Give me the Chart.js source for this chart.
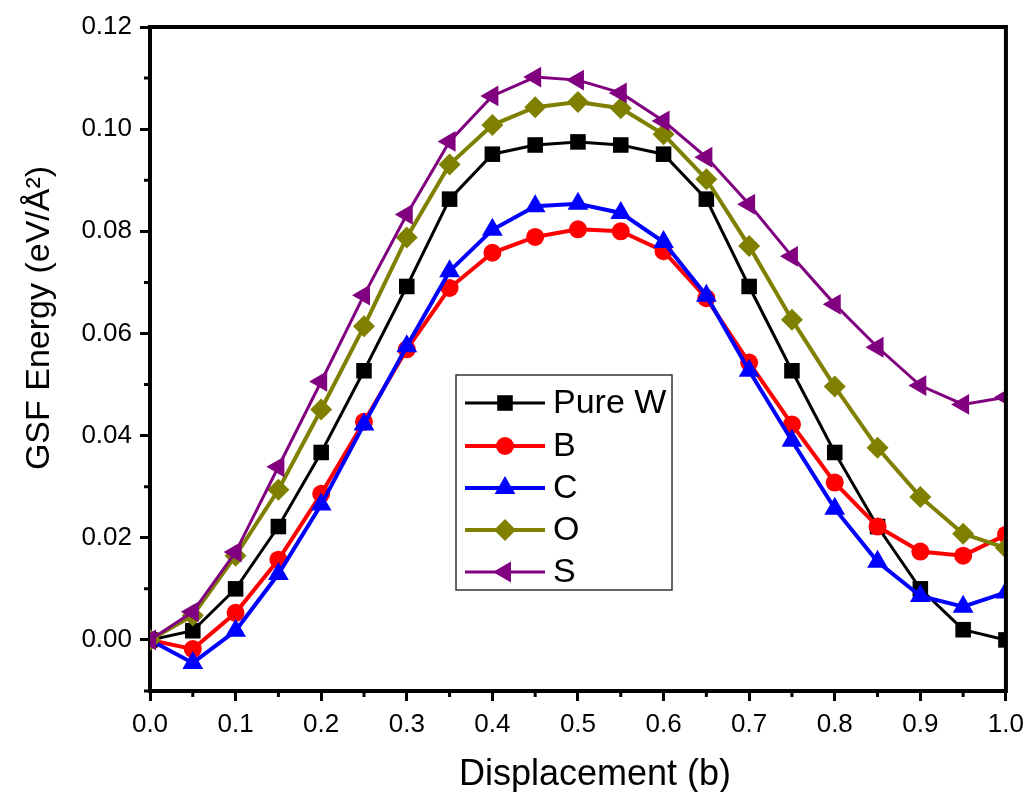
<!DOCTYPE html>
<html lang="en">
<head>
<meta charset="UTF-8">
<title>GSF Energy vs Displacement</title>
<script src="https://cdn.jsdelivr.net/npm/chart.js"></script>
<style>
  html, body { margin: 0; padding: 0; background: #fff; }
  #wrap { width: 1032px; height: 792px; }
</style>
</head>
<body>
<div id="wrap"><canvas id="gsfChart" width="1032" height="792"></canvas></div>
<script>
// displacement along b
const displacement = [0, 0.05, 0.1, 0.15, 0.2, 0.25, 0.3, 0.35, 0.4, 0.45, 0.5,
                      0.55, 0.6, 0.65, 0.7, 0.75, 0.8, 0.85, 0.9, 0.95, 1.0];

// GSF energy (eV/Å^2)
const pureW  = [0, 0.0018, 0.0100, 0.0222, 0.0367, 0.0527, 0.0692, 0.0863, 0.0951, 0.0969, 0.0975,
                0.0969, 0.0951, 0.0863, 0.0692, 0.0527, 0.0367, 0.0222, 0.0100, 0.0020, 0.0000];
const boron  = [0, -0.0018, 0.0053, 0.0157, 0.0286, 0.0427, 0.0569, 0.0689, 0.0758, 0.0789, 0.0804,
                0.0800, 0.0761, 0.0669, 0.0543, 0.0422, 0.0308, 0.0222, 0.0173, 0.0165, 0.0206];
const carbon = [0, -0.0045, 0.0018, 0.0129, 0.0265, 0.0422, 0.0575, 0.0722, 0.0803, 0.0849, 0.0854,
                0.0836, 0.0779, 0.0674, 0.0527, 0.0390, 0.0257, 0.0153, 0.0086, 0.0065, 0.0093];
const oxygen = [0, 0.0048, 0.0165, 0.0294, 0.0451, 0.0614, 0.0788, 0.0931, 0.1008, 0.1043, 0.1053,
                0.1041, 0.0990, 0.0902, 0.0771, 0.0627, 0.0496, 0.0376, 0.0280, 0.0208, 0.0180];
const sulfur = [0, 0.0055, 0.0172, 0.0339, 0.0506, 0.0675, 0.0833, 0.0976, 0.1065, 0.1102, 0.1096,
                0.1071, 0.1016, 0.0945, 0.0853, 0.0751, 0.0657, 0.0573, 0.0498, 0.0461, 0.0475];

const xTicks = [0, 0.1, 0.2, 0.3, 0.4, 0.5, 0.6, 0.7, 0.8, 0.9, 1.0];
const yTicks = [0, 0.02, 0.04, 0.06, 0.08, 0.10, 0.12];
const xMinor = [0.05, 0.15, 0.25, 0.35, 0.45, 0.55, 0.65, 0.75, 0.85, 0.95];
const yMinor = [-0.01, 0.01, 0.03, 0.05, 0.07, 0.09, 0.11];

const FONT = "'Liberation Sans', Arial, sans-serif";

function pts(arr) {
    return arr.map((v, i) => ({ x: displacement[i], y: v }));
}

function series(label, values, color, style, radius, lineW, rot, order) {
    return {
        label: label,
        data: pts(values),
        borderColor: color,
        backgroundColor: color,
        pointBackgroundColor: color,
        pointBorderColor: color,
        pointBorderWidth: 0,
        pointStyle: style,
        pointRadius: radius,
        pointRotation: rot,
        borderWidth: lineW,
        tension: 0,
        clip: 0,
        order: order
    };
}

const datasets = [
    series('Pure W', pureW, '#000000', 'rect', 11, 3, 0, 5),
    series('B', boron, '#ff0000', 'circle', 9, 4, 0, 4),
    series('C', carbon, '#0000ff', 'triangle', 12, 4, 0, 3),
    series('O', oxygen, '#808000', 'rectRot', 11, 4, 0, 2),
    series('S', sulfur, '#800080', 'triangle', 12, 3, -90, 1)
];

// minor ticks, closed frame, axis titles and the boxed legend inside the plot
const framePlugin = {
    id: 'framePlugin',
    afterDatasetsDraw(chart) {
        const ctx = chart.ctx;
        const a = chart.chartArea;
        const xs = chart.scales.x, ys = chart.scales.y;
        ctx.save();
        ctx.strokeStyle = '#000';
        ctx.lineWidth = 3;
        ctx.beginPath();
        xMinor.forEach(v => {
            const px = xs.getPixelForValue(v);
            ctx.moveTo(px, a.bottom);
            ctx.lineTo(px, a.bottom + 6);
        });
        yMinor.forEach(v => {
            const py = ys.getPixelForValue(v);
            ctx.moveTo(a.left, py);
            ctx.lineTo(a.left - 6, py);
        });
        ctx.stroke();

        ctx.lineWidth = 4;
        ctx.beginPath();
        ctx.moveTo(a.left - 2, a.top);
        ctx.lineTo(a.right, a.top);
        ctx.lineTo(a.right, a.bottom + 2);
        ctx.stroke();

        // axis titles (both sit a little off-centre in the original)
        ctx.fillStyle = '#000';
        ctx.textAlign = 'center';
        ctx.textBaseline = 'middle';
        ctx.font = '36px ' + FONT;
        ctx.fillText('Displacement (b)', 595, 775);

        ctx.save();
        ctx.translate(40, 318);
        ctx.rotate(-Math.PI / 2);
        ctx.font = '34px ' + FONT;
        ctx.fillText('GSF Energy (eV/Å²)', 0, 0);
        ctx.restore();

        // legend
        const lx = 456, ly = 375, lw = 216, lh = 215;
        ctx.fillStyle = '#fff';
        ctx.fillRect(lx, ly, lw, lh);
        ctx.strokeStyle = '#333';
        ctx.lineWidth = 1.5;
        ctx.strokeRect(lx, ly, lw, lh);
        const rows = [403, 446, 488, 530, 572];
        ctx.font = '34px ' + FONT;
        ctx.textBaseline = 'middle';
        ctx.textAlign = 'left';
        datasets.forEach((ds, i) => {
            const y = rows[i];
            ctx.strokeStyle = ds.borderColor;
            ctx.lineWidth = ds.borderWidth;
            ctx.beginPath();
            ctx.moveTo(465, y);
            ctx.lineTo(545, y);
            ctx.stroke();
            ctx.fillStyle = ds.borderColor;
            Chart.helpers.drawPoint(ctx, {
                pointStyle: ds.pointStyle,
                rotation: ds.pointRotation,
                radius: ds.pointRadius,
                borderWidth: 0
            }, 505, y);
            ctx.fillStyle = '#000';
            ctx.fillText(ds.label, 553, y + 1);
        });
        ctx.restore();
    }
};

const axisGrid = {
    display: true,
    drawOnChartArea: false,
    drawTicks: true,
    tickLength: 10,
    tickWidth: 3,
    tickColor: '#000',
    color: '#000'
};

new Chart(document.getElementById('gsfChart'), {
    type: 'line',
    data: { datasets: datasets },
    options: {
        responsive: false,
        animation: false,
        devicePixelRatio: 1,
        layout: { padding: { left: 24, right: 22, top: 27, bottom: 0 } },
        plugins: {
            legend: { display: false },
            tooltip: { enabled: false }
        },
        scales: {
            x: {
                type: 'linear',
                min: 0,
                max: 1,
                afterBuildTicks: s => { s.ticks = xTicks.map(v => ({ value: v })); },
                afterFit: s => { s.height = 101; },
                ticks: {
                    callback: v => v.toFixed(1),
                    font: { family: FONT, size: 26 },
                    color: '#000',
                    padding: 8,
                    maxRotation: 0,
                    autoSkip: false
                },
                grid: axisGrid,
                border: { display: true, color: '#000', width: 4 },
                title: { display: false }
            },
            y: {
                type: 'linear',
                min: -0.01,
                max: 0.12,
                afterBuildTicks: s => { s.ticks = yTicks.map(v => ({ value: v })); },
                afterFit: s => { s.width = 126; },
                ticks: {
                    callback: v => v.toFixed(2),
                    font: { family: FONT, size: 26 },
                    color: '#000',
                    padding: 8
                },
                grid: axisGrid,
                border: { display: true, color: '#000', width: 4 },
                title: { display: false }
            }
        }
    },
    plugins: [framePlugin]
});
</script>
</body>
</html>
